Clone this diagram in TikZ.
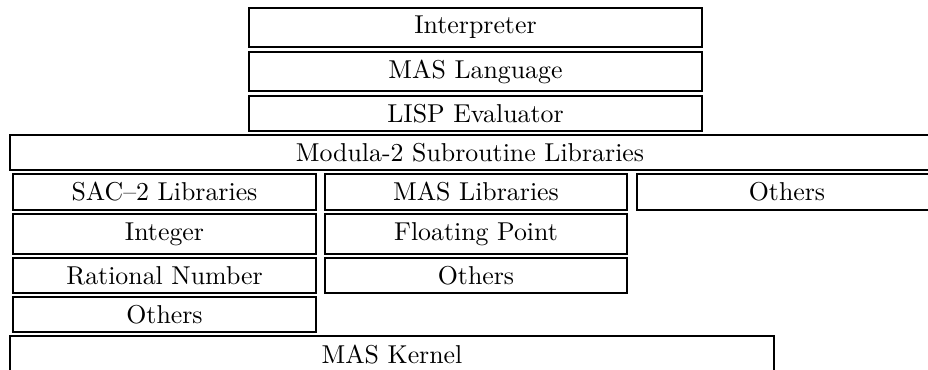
\documentclass[tikz,border=0pt]{standalone}
\usepackage{tikz}

\tikzset{layer/.style={draw, line width=1.1pt}}

\begin{document}
\begin{tikzpicture}[x=0.387pt, y=-0.387pt]
\clip (0,0) rectangle (928,369);
% top of the stack
\draw[layer] (249,8) rectangle (702,47) node[pos=0.5] (interp) {Interpreter};
\draw[layer] (249,52) rectangle (702,91) node[pos=0.5] (maslang) {MAS Language};
\draw[layer] (249,96) rectangle (702,131) node[pos=0.5] (lisp) {LISP Evaluator};
\draw[layer] (10,135) rectangle (930,170) node[pos=0.5] (modula) {Modula-2 Subroutine Libraries};
% library columns
\draw[layer] (13,174) rectangle (316,210) node[pos=0.5] (sac) {SAC--2 Libraries};
\draw[layer] (325,174) rectangle (627,210) node[pos=0.5] (maslib) {MAS Libraries};
\draw[layer] (637,174) rectangle (937,210) node[pos=0.5] (otherlib) {Others};
\draw[layer] (13,214) rectangle (316,254) node[pos=0.5] (integer) {Integer};
\draw[layer] (325,214) rectangle (627,254) node[pos=0.5] (float) {Floating Point};
\draw[layer] (13,258) rectangle (316,293) node[pos=0.5] (rational) {Rational Number};
\draw[layer] (325,258) rectangle (627,293) node[pos=0.5] (othermas) {Others};
\draw[layer] (13,297) rectangle (316,332) node[pos=0.5] (othersac) {Others};
% bottom
\draw[layer] (10,336) rectangle (774,373) node[pos=0.5] (kernel) {MAS Kernel};
\end{tikzpicture}
\end{document}
